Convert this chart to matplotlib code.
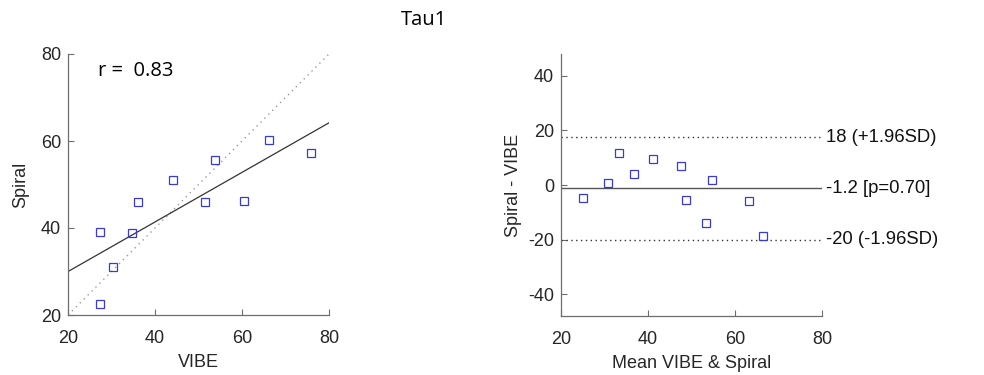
import numpy as np
import matplotlib.pyplot as plt

plt.rcParams['font.family'] = ['Liberation Sans', 'DejaVu Sans']
plt.rcParams['axes.unicode_minus'] = False

# values
vibe = [27.4, 27.4, 30.3, 34.6, 36.2, 44.1, 51.4, 53.9, 60.4, 66.1, 75.8]
spiral = [39.1, 22.6, 31.1, 38.8, 45.9, 51.0, 46.0, 55.6, 46.3, 60.2, 57.2]

left_ticks = [20, 40, 60, 80]
right_yticks = [-40, -20, 0, 20, 40]
limit_labels = ["18 (+1.96SD)", "-1.2 [p=0.70]", "-20 (-1.96SD)"]

vibe = np.array(vibe)
spiral = np.array(spiral)
mean_vs = (vibe + spiral) / 2
diff = spiral - vibe
md = diff.mean()
sd = diff.std(ddof=1)
fit = np.polyfit(vibe, spiral, 1)

fig = plt.figure(figsize=(9.84, 3.75), dpi=100)
ax1 = fig.add_axes([68 / 984, 60 / 375, 261 / 984, 261 / 375])
ax2 = fig.add_axes([561 / 984, 59 / 375, 261 / 984, 262 / 375])

spine_col = '#6e6e6e'
txt_col = '#262626'
mk = dict(marker='s', ls='none', ms=5.5, mfc='none', mec='#3a3ad8', mew=0.9)

for ax in (ax1, ax2):
    for s in ['top', 'right']:
        ax.spines[s].set_visible(False)
    for s in ['left', 'bottom']:
        ax.spines[s].set_color(spine_col)
        ax.spines[s].set_linewidth(0.9)
    ax.tick_params(direction='in', length=4, width=0.8, color=spine_col,
                   labelsize=13, labelcolor=txt_col, pad=5)
    ax.tick_params(axis='x', pad=11)

# left: correlation
xx = np.array([20, 80])
ax1.plot(xx, xx, ls=(0, (1, 3)), color='#9a9a9a', lw=1)
ax1.plot(xx, np.polyval(fit, xx), color='#333333', lw=0.9)
ax1.plot(vibe, spiral, **mk)
ax1.set_xlim(20, 80)
ax1.set_ylim(20, 80)
ax1.set_xticks(left_ticks)
ax1.set_yticks(left_ticks)
ax1.set_xlabel('VIBE', fontsize=13, color=txt_col, labelpad=5)
ax1.set_ylabel('Spiral', fontsize=13, color=txt_col, labelpad=8)
ax1.text(27, 76, 'r =  0.83', fontsize=14.5, family='Open Sans', va='center')

# right: Bland-Altman
ax2.plot(xx, [md + 1.96 * sd] * 2, ls=(0, (1, 2.5)), color='#333333', lw=1)
ax2.plot(xx, [md] * 2, color='#555555', lw=1)
ax2.plot(xx, [md - 1.96 * sd] * 2, ls=(0, (1, 2.5)), color='#333333', lw=1)
ax2.plot(mean_vs, diff, **mk)
ax2.set_xlim(20, 80)
ax2.set_ylim(-48, 48)
ax2.set_xticks(left_ticks)
ax2.set_yticks(right_yticks)
ax2.set_xlabel('Mean VIBE & Spiral', fontsize=13, color=txt_col, labelpad=5)
ax2.set_ylabel('Spiral - VIBE', fontsize=13, color=txt_col, labelpad=4)
for yv, lab in zip([md + 1.96 * sd, md, md - 1.96 * sd], limit_labels):
    ax2.text(81, yv, lab, fontsize=13.3, color='#111111', va='center',
             clip_on=False)

fig.text(424 / 984, 1 - 20 / 375, 'Tau1', fontsize=14.5, family='Open Sans',
         ha='center', va='center')

fig.savefig('out.png', dpi=100, facecolor='white')
